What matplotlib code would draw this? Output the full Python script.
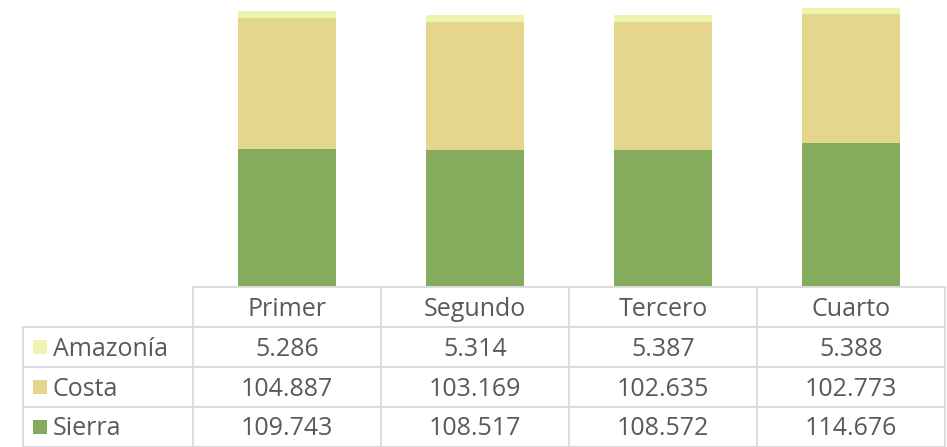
import matplotlib
matplotlib.use("Agg")
import matplotlib.pyplot as plt
import numpy as np

categories = ["Primer", "Segundo", "Tercero", "Cuarto"]
series_names = ["Amazonía", "Costa", "Sierra"]
amazonia = [5.286, 5.314, 5.387, 5.388]
costa = [104.887, 103.169, 102.635, 102.773]
sierra = [109.743, 108.517, 108.572, 114.676]
labels_amazonia = ["5.286", "5.314", "5.387", "5.388"]
labels_costa = ["104.887", "103.169", "102.635", "102.773"]
labels_sierra = ["109.743", "108.517", "108.572", "114.676"]

colors = {"Amazonía": "#EEF4B0", "Costa": "#E4D78D", "Sierra": "#84AC5C"}
text_color = "#595959"
grid_color = "#D9D9D9"
plt.rcParams['font.family'] = ['Open Sans', 'DejaVu Sans']

W, H = 947, 447
fig = plt.figure(figsize=(W / 100, H / 100), dpi=100)

x_left_tab = 23
x_plot_l = 193
x_plot_r = 945
y_plot_bottom = 286
row_edges = [287, 327, 367, 407, 446.5]

def fx(px):
    return px / W

def fy(py):
    return 1 - py / H

axb = fig.add_axes([fx(x_plot_l), fy(y_plot_bottom), (x_plot_r - x_plot_l) / W, y_plot_bottom / H])
x = np.arange(len(categories))
bw = 0.516
s = np.array(sierra)
c = np.array(costa)
a = np.array(amazonia)
axb.bar(x, s, bw, color=colors["Sierra"], linewidth=0)
axb.bar(x, c, bw, bottom=s, color=colors["Costa"], linewidth=0)
axb.bar(x, a, bw, bottom=s + c, color=colors["Amazonía"], linewidth=0)
axb.set_xlim(-0.5, len(categories) - 0.5)
axb.set_ylim(0, 229)
axb.axis("off")

axt = fig.add_axes([0, 0, 1, 1])
axt.set_xlim(0, W)
axt.set_ylim(H, 0)
axt.axis("off")

col_w = (x_plot_r - x_plot_l) / len(categories)
col_edges = [x_plot_l + i * col_w for i in range(len(categories) + 1)]
lw = 1.3
axt.plot([x_plot_l, x_plot_r], [row_edges[0]] * 2, color=grid_color, lw=lw)
for ry in row_edges[1:]:
    axt.plot([x_left_tab, x_plot_r], [ry] * 2, color=grid_color, lw=lw)
axt.plot([x_left_tab] * 2, [row_edges[1], row_edges[-1]], color=grid_color, lw=lw)
for cx in col_edges:
    axt.plot([cx] * 2, [row_edges[0], row_edges[-1]], color=grid_color, lw=lw)

fs = 18
fw = "normal"
dy = 2
for i, cat in enumerate(categories):
    cx = (col_edges[i] + col_edges[i + 1]) / 2
    axt.text(cx, (row_edges[0] + row_edges[1]) / 2 + dy, cat, ha="center", va="center",
             fontsize=fs, color=text_color, fontweight=fw)

rows = [("Amazonía", labels_amazonia), ("Costa", labels_costa), ("Sierra", labels_sierra)]
for r, (name, labs) in enumerate(rows):
    yc = (row_edges[r + 1] + row_edges[r + 2]) / 2
    axt.add_patch(plt.Rectangle((33, yc - 7), 14, 14, color=colors[name], lw=0))
    axt.text(53, yc + dy, name, ha="left", va="center", fontsize=fs, color=text_color, fontweight=fw)
    for i, lab in enumerate(labs):
        cx = (col_edges[i] + col_edges[i + 1]) / 2
        axt.text(cx, yc + dy, lab, ha="center", va="center", fontsize=fs, color=text_color, fontweight=fw)

fig.savefig("out.png", dpi=100)
